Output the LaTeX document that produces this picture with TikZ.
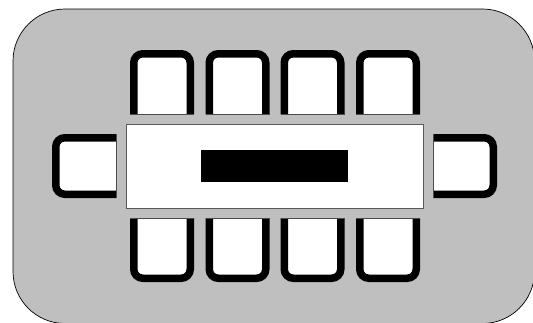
\documentclass[tikz,border=0pt]{standalone}
\usepackage{tikz}
\definecolor{zaalgrijs}{gray}{0.75}
\tikzset{
  zaal/.style={draw=black,fill=zaalgrijs,line width=0.7pt,rounded corners=52pt},
  tafel/.style={draw=black!65,fill=white,line width=0.8pt,inner sep=0pt,minimum width=297pt,minimum height=84pt},
  balk/.style={fill=black,inner sep=0pt,minimum width=147pt,minimum height=32pt},
  stoelrand/.style={draw=black,fill=white,line width=7.5pt,rounded corners=9pt},
  stoelnaad/.style={draw=black!70,line width=0.7pt},
  pics/stoel/.style={code={
    \draw[stoelrand] (-28.25,32) -- (-28.25,-28.25) -- (28.25,-28.25) -- (28.25,32);
    \draw[stoelnaad] (-32,32) -- (32,32);
  }},
}
\begin{document}
\begin{tikzpicture}[x=1pt,y=-1pt]
  \useasboundingbox (0,0) rectangle (533,322);
  \clip (0,0) rectangle (533,322);
  \fill[white] (0,0) rectangle (533,322);
  \draw[zaal] (13,9) rectangle (534.5,323.5);
  % stoelen
  \foreach \x in {162,237.5,312.5,388} {
    \pic at (\x,82) {stoel};
    \pic[rotate=180] at (\x,250) {stoel};
  }
  \pic[rotate=90] at (84,166) {stoel};
  \pic[rotate=-90] at (465,166) {stoel};
  % tafel
  \node[tafel] (tafel) at (274.5,166) {};
  \node[balk] (balk) at (tafel.center) {};
\end{tikzpicture}
\end{document}
